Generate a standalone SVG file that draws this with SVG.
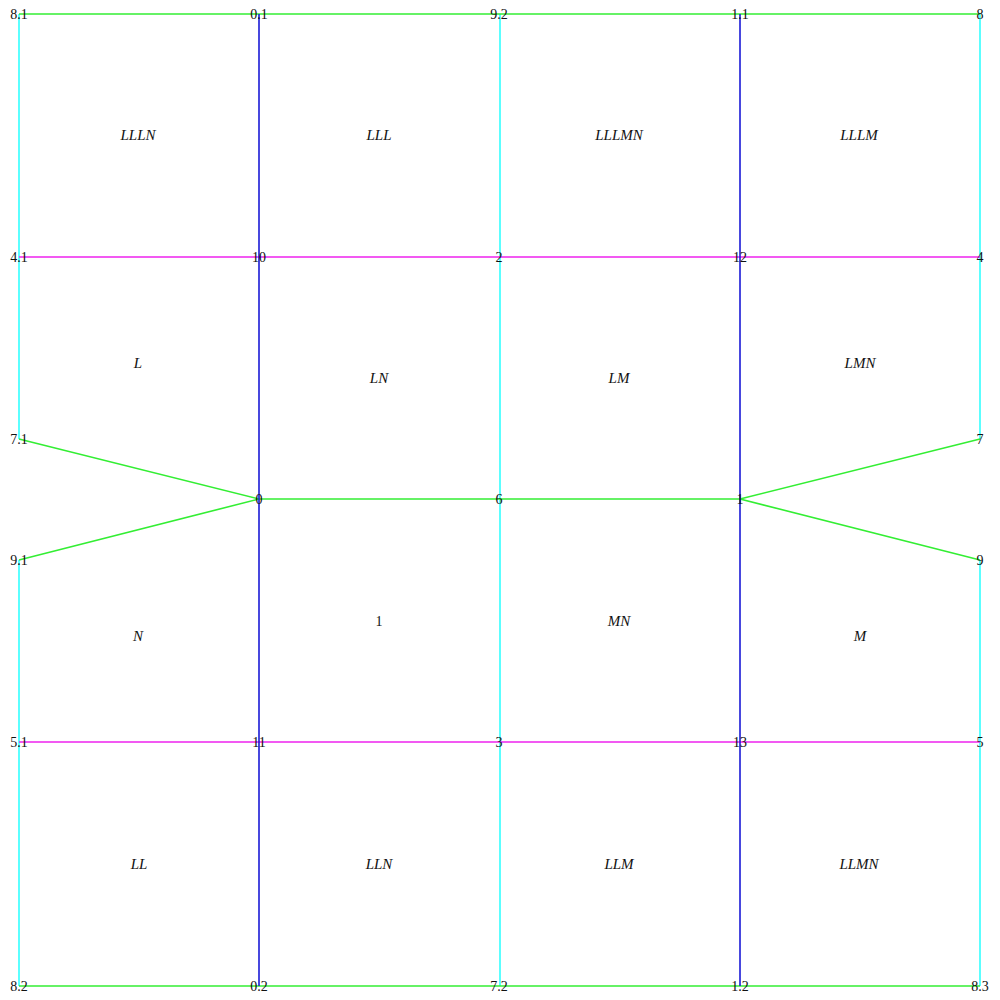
<svg xmlns="http://www.w3.org/2000/svg" width="1000" height="1000" viewBox="0 0 1000 1000">
<style>
line{stroke-width:1.6;fill:none}
.g{stroke:#33ee33}
.c{stroke:#33ffff}
.b{stroke:#1a1ad6}
.m{stroke:#ee22ee}
text{font-family:"Liberation Serif","Times New Roman",serif;font-size:14px;fill:#111;text-anchor:middle}
.r{font-style:italic;font-size:15px}
</style>
<rect width="1000" height="1000" fill="#fff"/>
<g id="connectors">
<line class="c" x1="19" y1="14" x2="19" y2="439"/>
<line class="c" x1="19" y1="560" x2="19" y2="986"/>
<line class="c" x1="980" y1="14" x2="980" y2="439"/>
<line class="c" x1="980" y1="560" x2="980" y2="986"/>
<line class="c" x1="500" y1="14" x2="500" y2="986"/>
<line class="m" x1="19" y1="257" x2="980" y2="257"/>
<line class="m" x1="19" y1="742" x2="980" y2="742"/>
<line class="g" x1="19" y1="14" x2="980" y2="14"/>
<line class="g" x1="19" y1="986" x2="980" y2="986"/>
<line class="g" x1="259" y1="499" x2="740" y2="499"/>
<line class="g" x1="19" y1="439" x2="259" y2="499"/>
<line class="g" x1="19" y1="560" x2="259" y2="499"/>
<line class="g" x1="740" y1="499" x2="980" y2="439"/>
<line class="g" x1="740" y1="499" x2="980" y2="560"/>
<line class="b" x1="259" y1="14" x2="259" y2="986"/>
<line class="b" x1="740" y1="14" x2="740" y2="986"/>
</g>
<g id="nodes">
<g id="n8_1"><text x="19" y="19">8.1</text></g>
<g id="n0_1"><text x="259" y="19">0.1</text></g>
<g id="n9_2"><text x="499" y="19">9.2</text></g>
<g id="n1_1"><text x="740" y="19">1.1</text></g>
<g id="n8"><text x="980" y="19">8</text></g>
<g id="n4_1"><text x="19" y="262">4.1</text></g>
<g id="n10"><text x="259" y="262">10</text></g>
<g id="n2"><text x="499" y="262">2</text></g>
<g id="n12"><text x="740" y="262">12</text></g>
<g id="n4"><text x="980" y="262">4</text></g>
<g id="n7_1"><text x="19" y="444">7.1</text></g>
<g id="n7"><text x="980" y="444">7</text></g>
<g id="n0"><text x="259" y="504">0</text></g>
<g id="n6"><text x="499" y="504">6</text></g>
<g id="n1"><text x="740" y="504">1</text></g>
<g id="n9_1"><text x="19" y="565">9.1</text></g>
<g id="n9"><text x="980" y="565">9</text></g>
<g id="n5_1"><text x="19" y="747">5.1</text></g>
<g id="n11"><text x="259" y="747">11</text></g>
<g id="n3"><text x="499" y="747">3</text></g>
<g id="n13"><text x="740" y="747">13</text></g>
<g id="n5"><text x="980" y="747">5</text></g>
<g id="n8_2"><text x="19" y="991">8.2</text></g>
<g id="n0_2"><text x="259" y="991">0.2</text></g>
<g id="n7_2"><text x="499" y="991">7.2</text></g>
<g id="n1_2"><text x="740" y="991">1.2</text></g>
<g id="n8_3"><text x="980" y="991">8.3</text></g>
</g>
<g id="regions">
<text class="r" x="138" y="140">LLLN</text>
<text class="r" x="379" y="140">LLL</text>
<text class="r" x="619" y="140">LLLMN</text>
<text class="r" x="859" y="140">LLLM</text>
<text class="r" x="138" y="368">L</text>
<text class="r" x="379" y="383">LN</text>
<text class="r" x="619" y="383">LM</text>
<text class="r" x="860" y="368">LMN</text>
<text class="r" x="138" y="641">N</text>
<text x="379" y="626">1</text>
<text class="r" x="619" y="626">MN</text>
<text class="r" x="860" y="641">M</text>
<text class="r" x="139" y="869">LL</text>
<text class="r" x="379" y="869">LLN</text>
<text class="r" x="619" y="869">LLM</text>
<text class="r" x="859" y="869">LLMN</text>
</g>
</svg>
